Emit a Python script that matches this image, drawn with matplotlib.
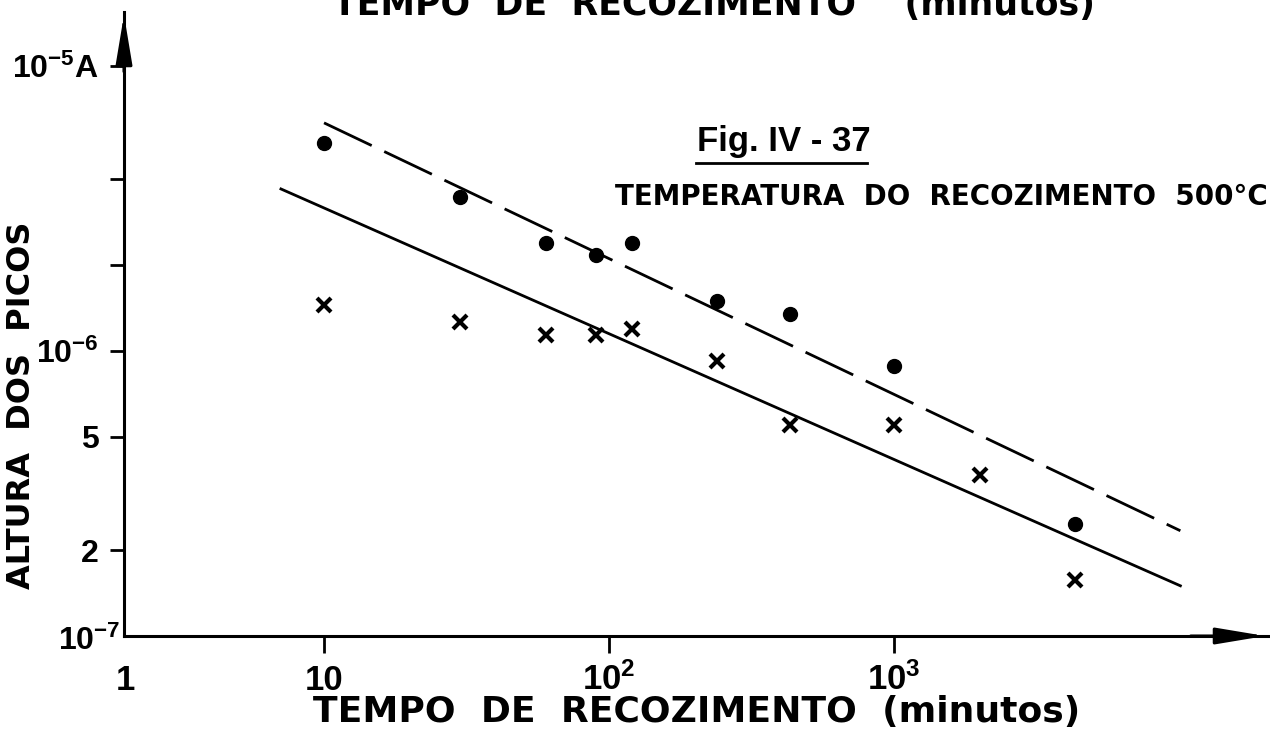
"""Altura dos picos em função do tempo de recozimento (Fig. IV-37)."""

import numpy as np
import matplotlib
matplotlib.use("Agg")
import matplotlib.pyplot as plt

matplotlib.rcParams["font.family"] = ["DejaVu Sans"]
matplotlib.rcParams["font.weight"] = "bold"
matplotlib.rcParams["axes.labelweight"] = "bold"

NUM_FONT = "Liberation Sans"

# pontos (circulos cheios)
tempo_pontos = [10, 30, 60, 90, 120, 240, 430, 1000, 4300]
altura_pontos = [5.37e-6, 3.47e-6, 2.39e-6, 2.17e-6, 2.39e-6, 1.50e-6, 1.35e-6, 8.85e-7, 2.47e-7]

# cruzes
tempo_cruzes = [10, 30, 60, 90, 120, 240, 430, 1000, 2000, 4300]
altura_cruzes = [1.45e-6, 1.26e-6, 1.14e-6, 1.14e-6, 1.19e-6, 9.22e-7, 5.50e-7, 5.50e-7, 3.67e-7, 1.57e-7]

# retas ajustadas
reta_tracejada_x = [10, 10100]
reta_tracejada_y = [6.31e-6, 2.34e-7]
reta_cheia_x = [7.06, 10100]
reta_cheia_y = [3.70e-6, 1.50e-7]

xticks = [10, 100, 1000]
xtick_labels = ["10", r"$\mathregular{10^2}$", r"$\mathregular{10^3}$"]
yticks = [2e-7, 5e-7, 1e-6, 2e-6, 4e-6, 1e-5]
ytick_labels = ["2", "5", r"$\mathregular{10^{-6}}$", "", "", r"$\mathregular{10^{-5}}$A"]

W, H = 1270, 734
fig = plt.figure(figsize=(W / 100, H / 100), dpi=100)
ax = fig.add_axes([124 / W, (H - 636) / H, 1144 / W, 624 / H])

ax.plot(reta_tracejada_x, reta_tracejada_y, color="k", lw=2, dashes=(19, 5), solid_capstyle="butt")
ax.plot(reta_cheia_x, reta_cheia_y, color="k", lw=2)
ax.plot(tempo_pontos, altura_pontos, "o", color="k", ms=10)
ax.plot(tempo_cruzes, altura_cruzes, "x", color="k", ms=10, mew=3)

ax.set_xscale("log")
ax.set_yscale("log")
ax.set_xlim(1.987, 20500)
ax.set_ylim(1e-7, 1.545e-5)
ax.minorticks_off()

ax.set_xticks(xticks, labels=xtick_labels)
ax.set_yticks(yticks, labels=ytick_labels)
ax.tick_params(axis="x", direction="out", length=12, width=2, pad=27, labelsize=25)
ax.tick_params(axis="y", direction="out", length=10, width=2, pad=8, labelsize=23)
for lab in ax.get_xticklabels():
    lab.set_va("baseline")
    lab.set_fontfamily(NUM_FONT)
for lab in ax.get_yticklabels():
    lab.set_fontfamily(NUM_FONT)

for side in ["top", "right"]:
    ax.spines[side].set_visible(False)
for side in ["left", "bottom"]:
    ax.spines[side].set_linewidth(2.2)

# pontas de seta dos eixos
ax.annotate("", xy=(0, 1), xytext=(0, 0.9), xycoords="axes fraction",
            arrowprops=dict(arrowstyle="-|>,head_length=1.5,head_width=0.25",
                            color="k", lw=2.2, mutation_scale=20))
ax.annotate("", xy=(1, 0), xytext=(0.93, 0), xycoords="axes fraction",
            arrowprops=dict(arrowstyle="-|>,head_length=1.5,head_width=0.25",
                            color="k", lw=2.2, mutation_scale=20))

fig.text(120 / W, 1 - 650 / H, r"$\mathregular{10^{-7}}$", ha="right", va="baseline",
         fontsize=23, fontfamily=NUM_FONT)
fig.text(125 / W, 1 - 690 / H, "1", ha="center", va="baseline", fontsize=25, fontfamily=NUM_FONT)

ax.set_xlabel("TEMPO  DE  RECOZIMENTO  (minutos)", fontsize=26)
ax.xaxis.set_label_coords((313 - 124) / 1144, -(722 - 636) / 624)
ax.xaxis.label.set_ha("left")
ax.xaxis.label.set_va("baseline")
ax.set_ylabel("ALTURA  DOS  PICOS", fontsize=23)
ax.yaxis.set_label_coords(-(124 - 22) / 1144, (636 - 405) / 624)
ax.yaxis.label.set_va("center")

# titulo cortado no topo da folha
fig.text(333 / W, 1 - 15 / H, "TEMPO  DE  RECOZIMENTO    (minutos)", ha="left", va="baseline", fontsize=25)

fig.text(697 / W, 1 - 151 / H, "Fig. IV - 37", ha="left", va="baseline", fontsize=25, fontfamily=NUM_FONT)
fig.add_artist(plt.Line2D([696 / W, 867 / W], [1 - 163 / H, 1 - 163 / H], color="k", lw=2))
fig.text(615 / W, 1 - 205 / H, "TEMPERATURA  DO  RECOZIMENTO  500°C", ha="left", va="baseline", fontsize=20)

fig.savefig("out.png", dpi=100)
plt.close(fig)
